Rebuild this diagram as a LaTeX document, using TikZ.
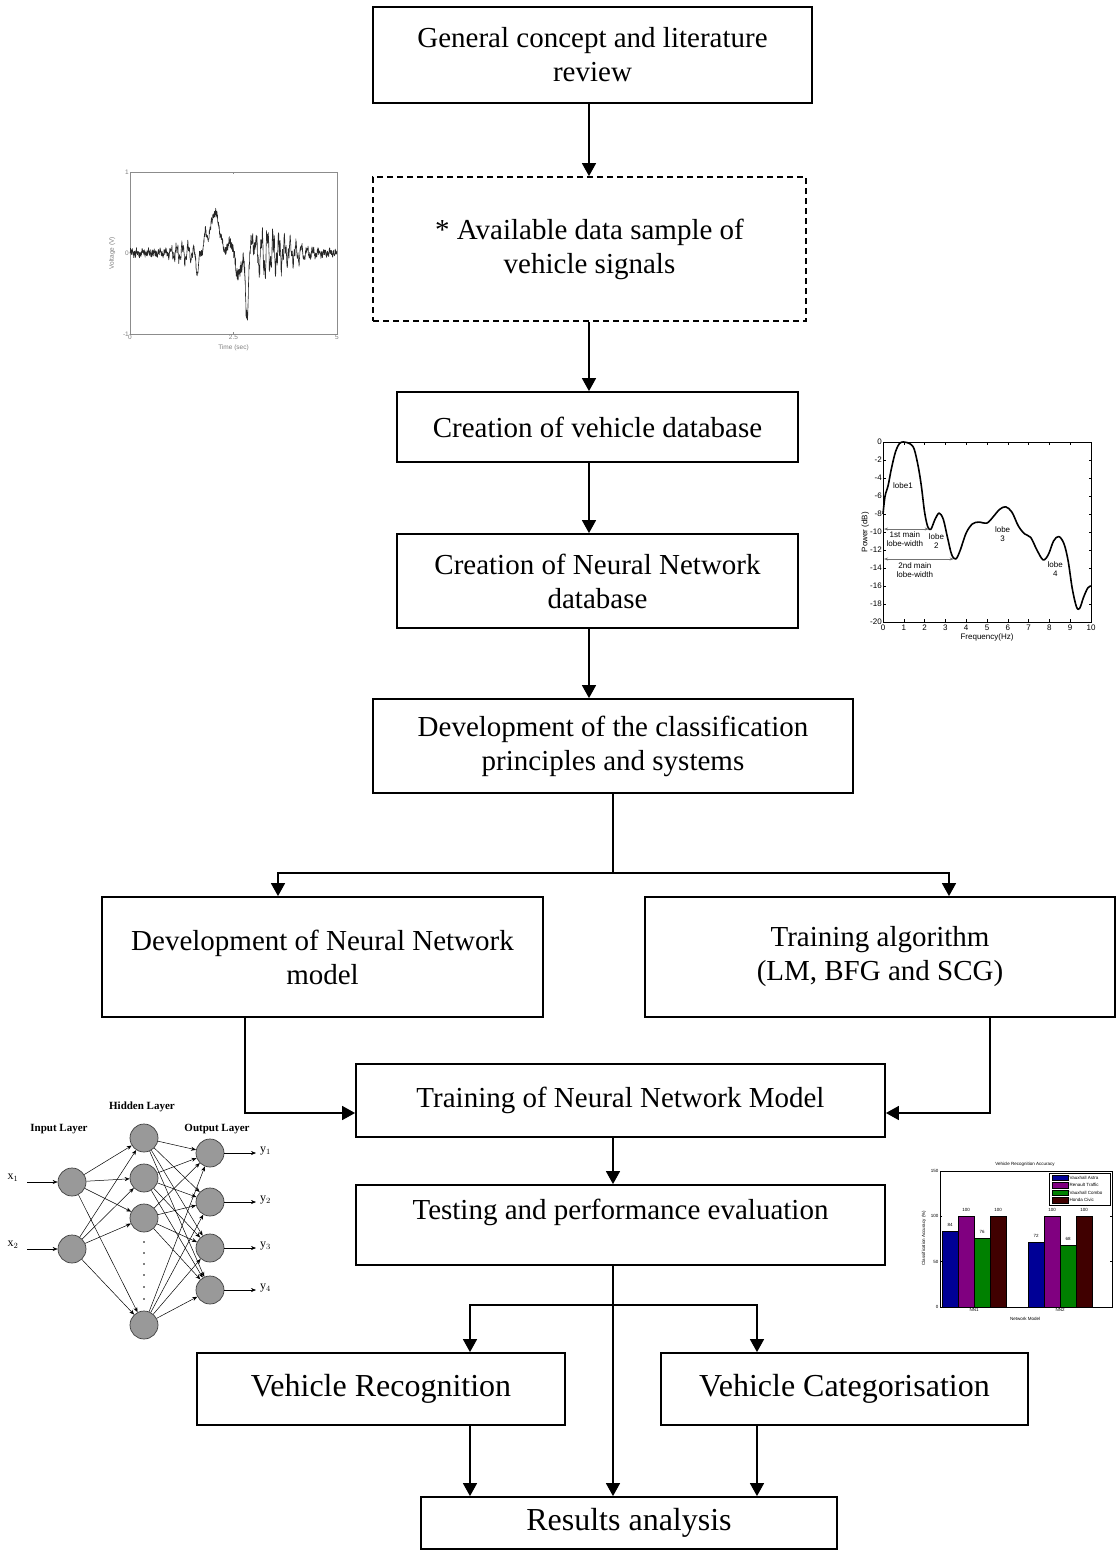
\documentclass[tikz,border=0pt]{standalone}
\usepackage{fontspec}
\setmainfont{Liberation Serif}
\newfontfamily\arialf{Liberation Sans}
\usetikzlibrary{arrows.meta,calc}
\definecolor{barblue}{RGB}{0,0,150}
\definecolor{barpurple}{RGB}{128,0,128}
\definecolor{bargreen}{RGB}{0,128,0}
\definecolor{barred}{RGB}{64,0,0}
\begin{document}
\begin{tikzpicture}[x=1pt,y=-1pt,
  box/.style={draw, line width=1.8pt, inner sep=0pt, align=center, font=\fontsize{29}{34}\selectfont},
  bigbox/.style={box, font=\fontsize{32}{36}\selectfont},
  arr/.style={line width=1.5pt, -{Triangle[length=13pt,width=14pt]}},
  ln/.style={line width=1.5pt},
  neu/.style={circle, draw=black!75, fill=black!40, minimum size=28pt, inner sep=0pt, line width=0.7pt},
  nnarr/.style={line width=0.5pt, -{Stealth[length=5pt,width=4pt]}},
  lay/.style={font=\bfseries\fontsize{11}{13}\selectfont},
  nnlab/.style={font=\fontsize{12}{14}\selectfont},
  spec/.style={font=\arialf\fontsize{8}{9}\selectfont, align=center, inner sep=0pt},
  sigl/.style={font=\arialf\fontsize{6.5}{7}\selectfont, text=black!50, inner sep=1pt},
  barl/.style={font=\arialf\fontsize{4.5}{5}\selectfont, inner sep=0.5pt},
  declare function={
    gg(\x,\m,\s)=exp(-min(((\x-\m)/\s)*((\x-\m)/\s),9));
    ph(\x,\k)=360*(\x*\k-floor(\x*\k));
    sig(\t)=0.5*gg(\t,2.05,0.15)+0.2*gg(\t,1.82,0.05)+0.16*gg(\t,2.42,0.06)-0.25*gg(\t,1.63,0.04)-0.28*gg(\t,2.62,0.08)-0.78*gg(\t,2.82,0.05)+0.22*gg(\t,2.97,0.04)+(0.02+0.08*gg(\t,1.3,0.3)+0.2*gg(\t,3.25,0.35)+0.08*gg(\t,3.9,0.45))*sin(ph(\t,7.3))+(0.015+0.1*gg(\t,3.5,0.5)+0.04*gg(\t,1.2,0.3))*sin(ph(\t,21))+(0.035+0.05*gg(\t,3,0.8))*rand;
  }]
\useasboundingbox (0,0) rectangle (1118,1551);
\fill[white] (0,0) rectangle (1118,1551);
\pgfmathsetseed{7}

% ---------- main boxes ----------
\node[box, minimum width=439pt, minimum height=96pt] (t1) at (592.5,55) {General concept and literature\\review};
\node[box, dash pattern=on 6pt off 4pt, minimum width=433pt, minimum height=144pt] (t2) at (589.5,249) {* Available data sample of\\vehicle signals};
\node[box, minimum width=401pt, minimum height=70pt] (t3) at (597.5,427) {Creation of vehicle database};
\node[box, minimum width=401pt, minimum height=94pt] (t4) at (597.5,581) {Creation of Neural Network\\database};
\node[box, minimum width=480pt, minimum height=94pt] (t5) at (613,746) {Development of the classification\\principles and systems};
\node[box, minimum width=441pt, minimum height=120pt] (t6) at (322.5,957) {Development of Neural Network\\model};
\node[box, minimum width=470pt, minimum height=120pt] (t7) at (880,957) {Training algorithm\\(LM, BFG and SCG)};
\node[box, minimum width=529pt, minimum height=73pt] (t8) at (620.5,1100.5) {Training of Neural Network Model};
\node[box, minimum width=529pt, minimum height=80pt] (t9) at (620.5,1225) {};
\node[font=\fontsize{29}{34}\selectfont, inner sep=0pt] (t9l) at (620.5,1212) {Testing and performance evaluation};
\node[bigbox, minimum width=368pt, minimum height=72pt] (t10) at (381,1389) {Vehicle Recognition};
\node[bigbox, minimum width=367pt, minimum height=72pt] (t11) at (844.5,1389) {Vehicle Categorisation};
\node[bigbox, minimum width=416pt, minimum height=52pt] (t12) at (629,1523) {Results analysis};

% ---------- connectors ----------
\coordinate (cx) at (589,0);
\coordinate (cy) at (613,0);
\coordinate (s1) at (613,873);
\coordinate (l1) at (278,0);
\coordinate (r1) at (949,0);
\coordinate (e1) at (245,1113);
\coordinate (e2) at (990,1113);
\coordinate (s2) at (613,1305);
\coordinate (l2) at (470,0);
\coordinate (r2) at (757,0);
\draw[arr] (t1.south -| cx) -- (t2.north -| cx);
\draw[arr] (t2.south -| cx) -- (t3.north -| cx);
\draw[arr] (t3.south -| cx) -- (t4.north -| cx);
\draw[arr] (t4.south -| cx) -- (t5.north -| cx);
\draw[ln] (t5.south -| cy) -- (s1);
\draw[arr] (s1) -| (t6.north -| l1);
\draw[arr] (s1) -| (t7.north -| r1);
\draw[arr] (t6.south -| e1) |- (t8.west |- e1);
\draw[arr] (t7.south -| e2) |- (t8.east |- e2);
\draw[arr] (t8.south -| cy) -- (t9.north -| cy);
\draw[arr] (t9.south -| cy) -- (t12.north -| cy);
\draw[arr] (s2) -| (t10.north -| l2);
\draw[arr] (s2) -| (t11.north -| r2);
\draw[arr] (t10.south -| l2) -- (t12.north -| l2);
\draw[arr] (t11.south -| r2) -- (t12.north -| r2);

% ---------- signal plot ----------
\begin{scope}[shift={(130,253)}, x=41.4pt, y=81pt]
  \draw[black!45, line width=0.5pt] (0,-1) rectangle (5,1);
  \foreach \tx in {2.5} {\draw[black!45, line width=0.4pt] (\tx,-1) -- ++(0,0.03) (\tx,1) -- ++(0,-0.03);}
  \foreach \ty in {0} {\draw[black!45, line width=0.4pt] (0,\ty) -- ++(0.05,0) (5,\ty) -- ++(-0.05,0);}
  \node[sigl, anchor=east] (sy1) at (0,1) {1};
  \node[sigl, anchor=east] (sy0) at (0,0) {0};
  \node[sigl, anchor=east] (sym) at (0,-1) {-1};
  \node[sigl, anchor=north] (sx0) at (0,-1) {0};
  \node[sigl, anchor=north] (sx1) at (2.5,-1) {2.5};
  \node[sigl, anchor=north] (sx2) at (5,-1) {5};
  \node[sigl] (sxl) at (2.5,-1.17) {Time (sec)};
  \node[sigl, rotate=90] (syl) at (-0.43,0) {Voltage (V)};
  \draw[black!85, line width=0.6pt, line join=round] plot[domain=0:5, samples=1300, variable=\t] (\t,{sig(\t)});
\end{scope}

% ---------- spectrum plot ----------
\begin{scope}[shift={(883,442)}, x=20.8pt, y=9pt]
  \draw[line width=0.6pt] (0,0) rectangle (10,-20);
  \foreach \fx in {0,...,10} {
    \draw[line width=0.4pt] (\fx,-20) -- ++(0,0.3) (\fx,0) -- ++(0,-0.3);
    \node[spec, anchor=north] at (\fx,-20.3) {\fx};
  }
  \foreach \fy in {0,-2,...,-20} {
    \draw[line width=0.4pt] (0,\fy) -- ++(0.12,0) (10,\fy) -- ++(-0.12,0);
    \node[spec, anchor=east] at (-0.05,\fy) {\fy};
  }
  \node[spec] (fxl) at (5,-21.7) {Frequency(Hz)};
  \node[spec, rotate=90] (fyl) at (-0.85,-10) {Power (dB)};
  \draw[line width=1.6pt, line join=round] plot[smooth, tension=0.55] coordinates {
    (0,-8) (0.1,-6) (0.25,-4.8) (0.4,-3) (0.6,-1.1) (0.8,-0.15) (1.0,0) (1.3,-0.2) (1.5,-0.8)
    (1.7,-2.8) (1.85,-5) (2.0,-7.8) (2.15,-9.4) (2.3,-9.7) (2.5,-8.6) (2.7,-7.9) (2.9,-8.6)
    (3.1,-10.6) (3.3,-12.5) (3.5,-13) (3.7,-12.1) (4.0,-10.1) (4.3,-9.1) (4.6,-8.9) (5.0,-9)
    (5.3,-8.3) (5.6,-7.5) (5.9,-7.2) (6.2,-7.8) (6.5,-9.3) (6.8,-10.2) (7.1,-10.6) (7.4,-12)
    (7.7,-13.1) (7.95,-12.5) (8.2,-11) (8.45,-10.5) (8.7,-11.3) (8.9,-13.2) (9.1,-16.3)
    (9.3,-18.3) (9.45,-18.5) (9.65,-17.2) (9.85,-16.2) (10,-16)};
  \draw[black!55, line width=0.5pt, {Stealth[length=4pt,width=3pt]}-{Stealth[length=4pt,width=3pt]}] (0.05,-9.67) -- (2.2,-9.67);
  \draw[black!55, line width=0.5pt, {Stealth[length=4pt,width=3pt]}-{Stealth[length=4pt,width=3pt]}] (0.05,-13) -- (3.4,-13);
  \node[spec] (lb1) at (0.96,-4.9) {lobe1};
  \node[spec] (lw1) at (1.05,-10.8) {1st main\\lobe-width};
  \node[spec] (lb2) at (2.57,-11.05) {lobe\\2};
  \node[spec] (lb3) at (5.75,-10.2) {lobe\\3};
  \node[spec] (lb4) at (8.28,-14.15) {lobe\\4};
  \node[spec] (lw2) at (1.53,-14.2) {2nd main\\lobe-width};
\end{scope}

% ---------- neural network ----------
\node[neu] (i1) at (72,1182) {};
\node[neu] (i2) at (72,1249) {};
\node[neu] (h1) at (144,1138) {};
\node[neu] (h2) at (144,1178) {};
\node[neu] (h3) at (144,1218) {};
\node[neu] (h4) at (144,1325) {};
\node[neu] (o1) at (210,1153) {};
\node[neu] (o2) at (210,1202) {};
\node[neu] (o3) at (210,1248) {};
\node[neu] (o4) at (210,1290) {};
\foreach \a in {i1,i2} \foreach \b in {h1,h2,h3,h4} \draw[nnarr] (\a) -- (\b);
\foreach \a in {h1,h2,h3,h4} \foreach \b in {o1,o2,o3,o4} \draw[nnarr] (\a) -- (\b);
\foreach \dy in {1242,1253,1264,1275,1287,1299} \fill (144,\dy) circle (0.8pt);
\coordinate (xi1) at (27,1182);
\coordinate (xi2) at (27,1249);
\draw[nnarr] (xi1) -- (i1);
\draw[nnarr] (xi2) -- (i2);
\node[nnlab] (lx1) at (13,1178) {x$_1$};
\node[nnlab] (lx2) at (13,1245) {x$_2$};
\foreach \o/\yy/\k in {o1/1153/1,o2/1202/2,o3/1248/3,o4/1290/4} {
  \coordinate (yo\k) at (256,\yy);
  \draw[nnarr] (\o) -- (yo\k);
  \node[nnlab, anchor=west, inner sep=1pt] (ly\k) at (259,\yy-2) {y$_{\k}$};
}
\node[lay] (lh) at (142,1107) {Hidden Layer};
\node[lay] (li) at (59,1129) {Input Layer};
\node[lay] (lo) at (217,1129) {Output Layer};

% ---------- bar chart ----------
\begin{scope}[shift={(940,1307)}, x=1pt, y=0.9067pt]
  \foreach \bx/\bv/\bc in {2/84/barblue,18/100/barpurple,34/76/bargreen,50/100/barred,88/72/barblue,104/100/barpurple,120/68/bargreen,136/100/barred} {
    \filldraw[fill=\bc, draw=black, line width=0.4pt] (\bx,0) rectangle ++(16,\bv);
    \node[barl, anchor=south] at (\bx+8,\bv+4) {\bv};
  }
  \draw[line width=0.5pt] (0,0) rectangle (172,150);
  \foreach \vy in {0,50,100,150} {
    \draw[line width=0.4pt] (0,\vy) -- ++(2,0) (172,\vy) -- ++(-2,0);
    \node[barl, anchor=east] at (-1,\vy) {\vy};
  }
  \node[barl, anchor=north] (nn1) at (34,-1) {NN1};
  \node[barl, anchor=north] (nn2) at (120,-1) {NN2};
\end{scope}
\node[barl] (btitle) at (1025,1164) {Vehicle Recognition Accuracy};
\node[barl] (bxl) at (1025,1319) {Network Model};
\node[barl, rotate=90] (byl) at (924,1238) {Classification Accuracy (\%)};
\draw[fill=white, line width=0.5pt] (1049,1173) rectangle (1110,1205);
\foreach \ly/\lc/\lt in {1177.5/barblue/Vauxhall Astra,1185/barpurple/Renault Traffic,1192.5/bargreen/Vauxhall Combo,1200/barred/Honda Civic} {
  \filldraw[fill=\lc, draw=black, line width=0.3pt] (1052,\ly-2.8) rectangle (1068,\ly+2.8);
  \node[barl, anchor=west] at (1069,\ly) {\lt};
}
\end{tikzpicture}
\end{document}
